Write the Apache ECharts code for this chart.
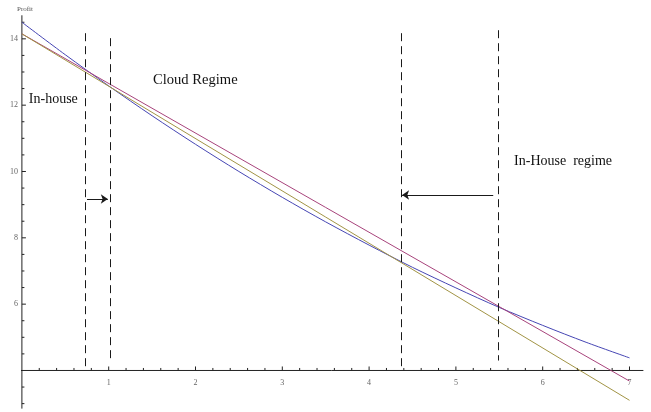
<!DOCTYPE html>
<html><head><meta charset="utf-8">
<script src="https://cdn.jsdelivr.net/npm/echarts@6/dist/echarts.min.js"></script>
<style>html,body{margin:0;padding:0;background:#fff}#c{width:651px;height:412px}</style>
</head><body><div id="c"></div>
<script>
// ---- data ----
const blueX = [0, 0.5, 1, 1.5, 2, 2.5, 3, 3.5, 4, 4.5, 5, 5.5, 6, 6.5, 7];
const blueProfit = [14.5, 13.52, 12.58, 11.68, 10.82, 10.0, 9.22, 8.48, 7.78, 7.11, 6.49, 5.9, 5.36, 4.85, 4.38];
const purpleX = [0, 7];
const purpleProfit = [14.15, 3.68];
const oliveX = [0, 7];
const oliveProfit = [14.15, 3.1];
const thresholdX = [0.73, 1.02, 4.37, 5.49];
const thresholdTop = [14.17, 14.02, 14.17, 14.26];
const thresholdBottom = [4.1, 4.3, 4.05, 4.3];
const arrowFrom = [[0.75, 9.17], [5.43, 9.29]];
const arrowTo = [[0.99, 9.17], [4.38, 9.29]];
const notes = ['In-house', 'Cloud Regime', 'In-House  regime'];
const notePos = [[0.08, 12.19], [1.51, 12.76], [5.67, 10.3]];
const noteSize = [14, 14.6, 14];
const xTickLabels = ['1', '2', '3', '4', '5', '6', '7'];
const yTickLabels = ['6', '8', '10', '12', '14'];
const xAxisLine = [[-0.16, 4], [7.16, 4]];
const yAxisLine = [[0, 2.85], [0, 14.71]];
const axisCross = [0, 4];           // where the two axes meet (x = 0, profit = 4)
const xMajorTicks = [1, 2, 3, 4, 5, 6, 7];
const xMinorStep = 0.2;
const yMajorTicks = [6, 8, 10, 12, 14];
const yMinorStep = 0.5;

// tick positions (axis decoration, not data)
const tickItems = [];
for (let i = 1; i <= 35; i++) {
  const v = +(i * xMinorStep).toFixed(2);
  tickItems.push([v, xMajorTicks.includes(v) ? 0 : 1]);
}
for (let i = 6; i <= 29; i++) {
  const v = +(i * yMinorStep).toFixed(2);
  if (v === axisCross[1]) continue;
  tickItems.push([v, yMajorTicks.includes(v) ? 2 : 3]);
}

const zip = (xs, ys) => xs.map((x, i) => [x, ys[i]]);
const serif = '"Liberation Serif", "DejaVu Serif", serif';
const chart = echarts.init(document.getElementById('c'), null, {renderer: 'canvas'});
const blk = '#1a1a1a';

chart.setOption({
  animation: false,
  backgroundColor: '#fff',
  title: {text: 'Profit', left: 12, top: 1, textStyle: {fontFamily: serif, fontSize: 7, fontWeight: 'normal', color: '#555'}},
  grid: {left: 21.9, right: -65.3, top: -27.5, bottom: -24.8, containLabel: false, outerBoundsMode: 'none'},
  xAxis: {
    type: 'value', min: 0, max: 8, interval: 1, position: 'bottom', offset: -66.3,
    axisLine: {show: false, onZero: false},
    axisTick: {show: false},
    splitLine: {show: false},
    axisLabel: {margin: 8, fontFamily: serif, fontSize: 8, color: '#666',
      formatter: v => xTickLabels.includes(String(v)) ? String(v) : ''}
  },
  yAxis: {
    type: 'value', min: 2, max: 16, interval: 2, position: 'left',
    axisLine: {show: false, onZero: false},
    axisTick: {show: false},
    splitLine: {show: false},
    axisLabel: {margin: 4, fontFamily: serif, fontSize: 8, color: '#666',
      formatter: v => yTickLabels.includes(String(v)) ? String(v) : ''}
  },
  series: [
    {type: 'line', data: xAxisLine, symbol: 'none', silent: true, clip: false, lineStyle: {color: '#222', width: 1}},
    {type: 'line', data: yAxisLine, symbol: 'none', silent: true, clip: false, lineStyle: {color: '#222', width: 1}},
    {type: 'custom', silent: true, clip: false, data: tickItems,
      renderItem: (params, api) => {
        const v = api.value(0), kind = api.value(1);
        const len = (kind === 0 || kind === 2) ? 4 : 2.5;
        if (kind < 2) {
          const p = api.coord([v, axisCross[1]]);
          return {type: 'line', shape: {x1: p[0], y1: p[1], x2: p[0], y2: p[1] - len}, style: {stroke: '#222', lineWidth: 1}};
        }
        const p = api.coord([axisCross[0], v]);
        return {type: 'line', shape: {x1: p[0], y1: p[1], x2: p[0] + len, y2: p[1]}, style: {stroke: '#222', lineWidth: 1}};
      }
    },
    {type: 'line', data: zip(blueX, blueProfit), symbol: 'none', smooth: 0.3, lineStyle: {color: '#4646b4', width: 1}},
    {type: 'line', data: zip(purpleX, purpleProfit), symbol: 'none', lineStyle: {color: '#a8447c', width: 1}},
    {type: 'line', data: zip(oliveX, oliveProfit), symbol: 'none', lineStyle: {color: '#a29445', width: 1},
      markLine: {
        silent: true, symbol: ['none', 'none'], label: {show: false},
        lineStyle: {color: blk, width: 1, type: [8, 5]},
        data: thresholdX.map((x, i) => [{coord: [x, thresholdTop[i]]}, {coord: [x, thresholdBottom[i]]}])
      },
      markPoint: {
        silent: true, symbol: 'circle', symbolSize: 0,
        data: notes.map((t, i) => ({coord: notePos[i], value: t,
          label: {show: true, formatter: t, position: 'right', distance: 0, fontFamily: serif, fontSize: noteSize[i], color: '#111'}}))
      }
    },
    {type: 'line', data: [], symbol: 'none',
      markLine: {
        silent: true, symbol: ['none', 'arrow'], symbolSize: 7, label: {show: false},
        lineStyle: {color: blk, width: 1, type: 'solid'},
        data: arrowFrom.map((p, i) => [{coord: p}, {coord: arrowTo[i]}])
      }
    }
  ]
});
</script></body></html>
